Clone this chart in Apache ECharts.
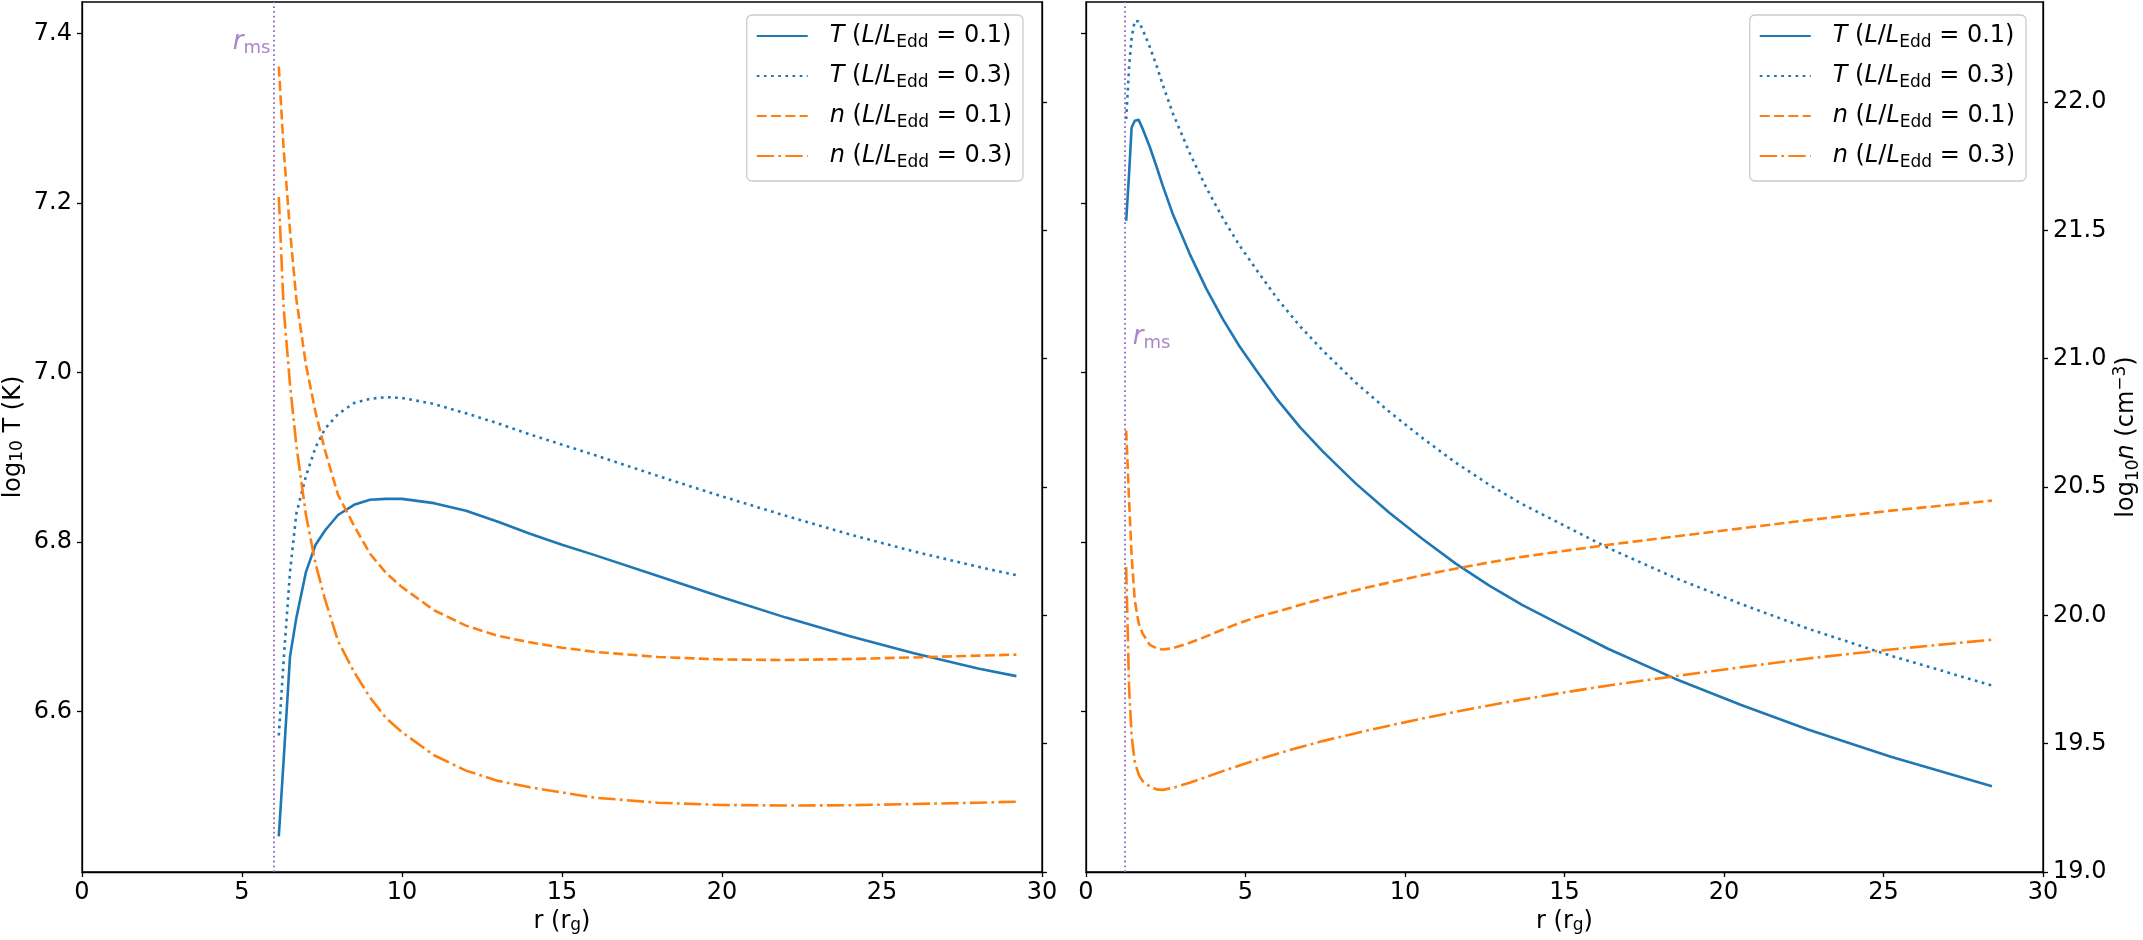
<!DOCTYPE html>
<html><head><meta charset="utf-8">
<script src="https://cdn.jsdelivr.net/npm/echarts@6/dist/echarts.min.js"></script>
<style>html,body{margin:0;padding:0;background:#fff}#c{width:2143px;height:940px}</style>
</head><body><div id="c"></div>
<script>
// ---------- data ----------
const R_TICKS = [0, 5, 10, 15, 20, 25, 30];
const T_TICKS = [6.6, 6.8, 7.0, 7.2, 7.4];
const N_TICKS = [19.0, 19.5, 20.0, 20.5, 21.0, 21.5, 22.0];
const R_MS_LEFT = 6.0;
const R_MS_RIGHT = 1.23;
const NAMES = ['T (L/LEdd = 0.1)', 'T (L/LEdd = 0.3)', 'n (L/LEdd = 0.1)', 'n (L/LEdd = 0.3)'];

const R_LEFT   = [6.15, 6.3, 6.5, 6.7, 7.0, 7.3, 7.6, 8.0, 8.5, 9.0, 9.5, 10, 11, 12, 13, 14, 15, 16, 18, 20, 22, 24, 26, 28, 29.2];
const T01_LEFT = [6.453, 6.542, 6.665, 6.711, 6.765, 6.797, 6.814, 6.832, 6.844, 6.850, 6.851, 6.851, 6.846, 6.837, 6.824, 6.810, 6.797, 6.785, 6.760, 6.735, 6.711, 6.689, 6.669, 6.651, 6.642];
const T03_LEFT = [6.572, 6.660, 6.765, 6.834, 6.878, 6.912, 6.934, 6.951, 6.964, 6.969, 6.971, 6.970, 6.963, 6.952, 6.940, 6.927, 6.915, 6.903, 6.878, 6.854, 6.831, 6.809, 6.789, 6.771, 6.761];
const N01_LEFT = [22.138, 21.82, 21.50, 21.231, 20.975, 20.79, 20.64, 20.47, 20.35, 20.24, 20.165, 20.11, 20.02, 19.96, 19.92, 19.895, 19.874, 19.858, 19.838, 19.828, 19.826, 19.830, 19.836, 19.843, 19.847];
const N03_LEFT = [21.63, 21.20, 20.90, 20.66, 20.39, 20.20, 20.06, 19.90, 19.78, 19.68, 19.60, 19.545, 19.455, 19.395, 19.355, 19.33, 19.31, 19.29, 19.27, 19.261, 19.259, 19.26, 19.265, 19.27, 19.274];

const R_RIGHT   = [1.26, 1.35, 1.43, 1.53, 1.65, 1.77, 2.0, 2.21, 2.4, 2.73, 3.25, 3.77, 4.29, 4.81, 5.33, 6.0, 6.7, 7.42, 8.46, 9.5, 10.54, 11.58, 12.63, 13.67, 14.81, 16.38, 18.46, 20.54, 22.63, 25.23, 28.4];
const T01_RIGHT = [7.179, 7.234, 7.289, 7.297, 7.298, 7.288, 7.266, 7.243, 7.221, 7.186, 7.140, 7.099, 7.063, 7.031, 7.003, 6.968, 6.936, 6.907, 6.869, 6.835, 6.804, 6.775, 6.749, 6.726, 6.704, 6.674, 6.639, 6.608, 6.579, 6.547, 6.512];
const T03_RIGHT = [7.299, 7.360, 7.395, 7.415, 7.414, 7.405, 7.384, 7.362, 7.340, 7.305, 7.259, 7.218, 7.182, 7.150, 7.122, 7.087, 7.055, 7.026, 6.988, 6.954, 6.923, 6.894, 6.868, 6.845, 6.823, 6.793, 6.758, 6.727, 6.698, 6.666, 6.631];
const N01_RIGHT = [20.72, 20.449, 20.232, 20.058, 19.97, 19.93, 19.885, 19.872, 19.867, 19.872, 19.893, 19.918, 19.945, 19.970, 19.993, 20.015, 20.040, 20.065, 20.098, 20.128, 20.156, 20.182, 20.206, 20.228, 20.248, 20.275, 20.307, 20.339, 20.371, 20.408, 20.447];
const N03_RIGHT = [20.188, 19.72, 19.53, 19.429, 19.38, 19.355, 19.333, 19.322, 19.32, 19.328, 19.348, 19.370, 19.393, 19.415, 19.436, 19.461, 19.486, 19.510, 19.541, 19.570, 19.598, 19.624, 19.649, 19.672, 19.696, 19.727, 19.763, 19.798, 19.832, 19.867, 19.905];

// ---------- style ----------
const FONT = 'DejaVu Sans';
const FS = 24;
const C0 = '#1f77b4', C1 = '#ff7f0e', C4 = '#9467bd';
const DASHED = [10, 4.3], DOTTED = [2.7, 4.45], DASHDOT = [17.3, 4.3, 2.7, 4.3];
const LW = 2.6;
const T_MIN = 6.411, T_MAX = 7.437, N_MIN = 19.0, N_MAX = 22.39;

const RICH = {
  it:  {fontFamily: FONT, fontSize: FS, fontStyle: 'italic', color: '#000', lineHeight: 30},
  n:   {fontFamily: FONT, fontSize: FS, color: '#000', lineHeight: 30},
  sub: {fontFamily: FONT, fontSize: 17, color: '#000', lineHeight: 17, verticalAlign: 'bottom'},
  sup: {fontFamily: FONT, fontSize: 17, color: '#000', lineHeight: 17, verticalAlign: 'top'}
};

function pairs(xs, ys) { return xs.map((x, i) => [x, ys[i]]); }

const GRIDS = [
  {left: 82, top: 2, width: 960, height: 870},
  {left: 1086, top: 2, width: 960, height: 870}
];

function axisCommon() {
  return {
    axisLine: {show: true, onZero: false, lineStyle: {color: '#000', width: 1.3}},
    splitLine: {show: false}
  };
}
function xAxisDef(gi) {
  return Object.assign(axisCommon(), {
    type: 'value', gridIndex: gi, min: 0, max: 30,
    name: 'r (r{sub|g})', nameLocation: 'middle', nameGap: 36,
    nameTextStyle: {fontFamily: FONT, fontSize: FS, color: '#000', rich: RICH},
    axisTick: {show: true, inside: false, length: 5, lineStyle: {color: '#000', width: 1.3}, customValues: R_TICKS},
    axisLabel: {show: true, margin: 9, fontFamily: FONT, fontSize: FS, color: '#000', customValues: R_TICKS, formatter: v => String(v)}
  });
}
function yAxisDef(gi, pos, min, max, ticks, showLabel, name, gap) {
  const a = Object.assign(axisCommon(), {
    type: 'value', gridIndex: gi, position: pos, min: min, max: max,
    axisTick: {show: true, inside: false, length: 5, lineStyle: {color: '#000', width: 1.3}, customValues: ticks},
    axisLabel: {show: showLabel, margin: 10, fontFamily: FONT, fontSize: FS, color: '#000', customValues: ticks, formatter: v => v.toFixed(1)}
  });
  if (name) {
    a.name = name; a.nameLocation = 'middle'; a.nameGap = gap; a.nameRotate = 90;
    a.nameTextStyle = {fontFamily: FONT, fontSize: FS, color: '#000', rich: RICH};
  }
  return a;
}

function legendFormatter(name) {
  const i = NAMES.indexOf(name);
  const v = i < 2 ? 'T' : 'n';
  const lum = (i % 2 === 0) ? '0.1' : '0.3';
  return '{it|' + v + '}{n| (}{it|L}{n|/}{it|L}{sub|Edd}{n| = ' + lum + ')}';
}
function legendDef(right) {
  return {
    orient: 'vertical', right: right, top: 15,
    itemWidth: 51, itemHeight: 14, itemGap: 10,
    padding: [6, 11, 10, 9],
    borderColor: '#cccccc', borderWidth: 1.3, borderRadius: 5,
    backgroundColor: 'rgba(255,255,255,0.8)',
    selectedMode: false,
    data: NAMES,
    formatter: legendFormatter,
    itemStyle: {color: 'rgba(0,0,0,0)', borderColor: 'rgba(0,0,0,0)', borderWidth: 0},
    textStyle: {fontFamily: FONT, fontSize: FS, color: '#000', lineHeight: 30, padding: [0, 0, 0, 17], rich: RICH}
  };
}

const LINE_STYLES = [
  {color: C0, type: 'solid'},
  {color: C0, type: DOTTED},
  {color: C1, type: DASHED},
  {color: C1, type: DASHDOT}
];

function lineSeries(k, xi, yi, xs, ys, extra) {
  const s = {
    type: 'line', name: NAMES[k], xAxisIndex: xi, yAxisIndex: yi,
    data: pairs(xs, ys), symbol: 'none', showSymbol: false, smooth: false,
    lineStyle: {color: LINE_STYLES[k].color, width: LW, type: LINE_STYLES[k].type, cap: 'butt'},
    itemStyle: {color: LINE_STYLES[k].color},
    silent: true
  };
  return Object.assign(s, extra || {});
}
function rmsLine(r) {
  return {
    silent: true, symbol: ['none', 'none'], label: {show: false},
    lineStyle: {color: C4, width: 1.8, type: [1.8, 3]},
    data: [{xAxis: r}]
  };
}
function rmsLabel(xi, yi, pt, pos) {
  return {
    type: 'scatter', xAxisIndex: xi, yAxisIndex: yi, data: [pt], symbolSize: 1,
    itemStyle: {color: 'rgba(0,0,0,0)'}, silent: true,
    label: {
      show: true, position: pos, distance: 0, formatter: '{r|r}{ms|ms}',
      rich: {
        r: {fontFamily: FONT, fontSize: 26, fontStyle: 'italic', color: C4, lineHeight: 30},
        ms: {fontFamily: FONT, fontSize: 18, color: C4, lineHeight: 18, verticalAlign: 'bottom'}
      }
    }
  };
}

const option = {
  animation: false,
  backgroundColor: '#ffffff',
  grid: GRIDS.map(g => Object.assign({show: true, borderColor: '#000', borderWidth: 1.3, backgroundColor: 'rgba(0,0,0,0)'}, g)),
  xAxis: [xAxisDef(0), xAxisDef(1)],
  yAxis: [
    yAxisDef(0, 'left', T_MIN, T_MAX, T_TICKS, true, 'log{sub|10} T (K)', 56),
    yAxisDef(0, 'right', N_MIN, N_MAX, N_TICKS, false),
    yAxisDef(1, 'left', T_MIN, T_MAX, T_TICKS, false),
    yAxisDef(1, 'right', N_MIN, N_MAX, N_TICKS, true, 'log{sub|10}{it|n} (cm{sup|−3})', 69)
  ],
  legend: [legendDef(1120), legendDef(117)],
  series: [
    lineSeries(0, 0, 0, R_LEFT, T01_LEFT, {markLine: rmsLine(R_MS_LEFT)}),
    lineSeries(1, 0, 0, R_LEFT, T03_LEFT),
    lineSeries(2, 0, 1, R_LEFT, N01_LEFT),
    lineSeries(3, 0, 1, R_LEFT, N03_LEFT),
    lineSeries(0, 1, 2, R_RIGHT, T01_RIGHT, {markLine: rmsLine(R_MS_RIGHT)}),
    lineSeries(1, 1, 2, R_RIGHT, T03_RIGHT),
    lineSeries(2, 1, 3, R_RIGHT, N01_RIGHT),
    lineSeries(3, 1, 3, R_RIGHT, N03_RIGHT),
    rmsLabel(0, 0, [5.9, 7.39], 'left'),
    rmsLabel(1, 2, [1.45, 7.042], 'right')
  ]
};

const chart = echarts.init(document.getElementById('c'), null, {renderer: 'canvas', width: 2143, height: 940});
chart.setOption(option);
</script>
</body></html>
